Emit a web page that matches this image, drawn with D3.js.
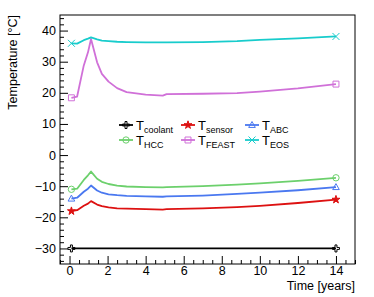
<!DOCTYPE html>
<html>
<head>
<meta charset="utf-8">
<script src="https://cdn.jsdelivr.net/npm/d3@7"></script>
<style>
  body { margin: 0; background: #fff; }
  svg { display: block; font-family: "Liberation Sans", Arial, sans-serif; }
</style>
</head>
<body>
<div id="chart"></div>
<script>
// time points (years)
const times = [0.1, 0.4, 0.75, 0.97, 1.13, 1.45, 1.7, 2.05, 2.5, 3, 4, 4.9, 5.1, 7, 8.8, 10, 12, 14];

const coolant = times.map(() => -30);
const sensor = [-18.0, -17.7, -16.3, -15.6, -14.8, -15.9, -16.4, -16.8, -17.1, -17.2, -17.4, -17.5, -17.4, -17.1, -16.7, -16.3, -15.4, -14.3];
const abc    = [-14.0, -13.7, -11.8, -10.8, -9.8, -11.4, -12.1, -12.6, -12.9, -13.1, -13.3, -13.4, -13.3, -13.0, -12.5, -12.1, -11.3, -10.3];
const hcc    = [-11.0, -10.8, -8.0, -6.5, -5.3, -7.6, -8.6, -9.3, -9.8, -10.1, -10.3, -10.4, -10.3, -10.0, -9.5, -9.1, -8.3, -7.3];
const feast  = [18.4, 18.8, 28.8, 33.0, 37.3, 29.8, 26.1, 23.6, 21.5, 20.2, 19.4, 19.1, 19.6, 19.7, 19.9, 20.4, 21.4, 22.8];
const eos    = [35.9, 35.8, 36.9, 37.4, 37.8, 37.2, 36.8, 36.6, 36.4, 36.3, 36.2, 36.2, 36.2, 36.3, 36.6, 37.0, 37.5, 38.1];

const seriesNames = ["coolant", "sensor", "ABC", "HCC", "FEAST", "EOS"];
const seriesValues = [coolant, sensor, abc, hcc, feast, eos];

const xTicks = [0, 2, 4, 6, 8, 10, 12, 14];
const yTicks = [-30, -20, -10, 0, 10, 20, 30, 40];

const colors = ["#000000", "#dd1111", "#4a78f0", "#6cd06c", "#d070d8", "#18cccc"];
const markers = ["opencross", "star", "triangle", "circle", "square", "x"];

const width = 374, height = 297;
const margin = {top: 15, right: 19, bottom: 33, left: 60};

const svg = d3.select("#chart").append("svg")
    .attr("width", width)
    .attr("height", height);

const x = d3.scaleLinear().domain([-0.5, 15]).range([margin.left, width - margin.right]);
const y = d3.scaleLinear().domain([-35, 45]).range([height - margin.bottom, margin.top]);

// frame
svg.append("rect")
    .attr("x", margin.left).attr("y", margin.top)
    .attr("width", width - margin.left - margin.right)
    .attr("height", height - margin.top - margin.bottom)
    .attr("fill", "none").attr("stroke", "#000").attr("stroke-width", 1);

// axes (ticks inside the frame, ROOT style)
const xMinor = d3.range(-0.5, 15.01, 0.5).filter(v => !xTicks.includes(v));
const yMinor = d3.range(-34, 45, 2).filter(v => !yTicks.includes(v));

const xAxis = svg.append("g").attr("transform", `translate(0,${height - margin.bottom})`);
xAxis.call(d3.axisBottom(x).tickValues(xTicks).tickSizeInner(-8).tickSizeOuter(0).tickPadding(2));
xAxis.append("g").call(d3.axisBottom(x).tickValues(xMinor).tickSizeInner(-4).tickSizeOuter(0).tickFormat(""));

const yAxis = svg.append("g").attr("transform", `translate(${margin.left},0)`);
yAxis.call(d3.axisLeft(y).tickValues(yTicks).tickSizeInner(-8).tickSizeOuter(0).tickPadding(4)
    .tickFormat(d => d < 0 ? "\u2212" + Math.abs(d) : d));
yAxis.append("g").call(d3.axisLeft(y).tickValues(yMinor).tickSizeInner(-4).tickSizeOuter(0).tickFormat(""));

svg.selectAll(".domain").remove();
svg.selectAll(".tick line").attr("stroke", "#000");
svg.selectAll(".tick text").attr("font-size", 12.5).attr("fill", "#000")
    .attr("font-family", "'Liberation Sans', Arial, sans-serif");
xAxis.selectAll(".tick text").attr("dy", "0.7em");

// axis titles
svg.append("text")
    .attr("x", width - margin.right).attr("y", 290)
    .attr("text-anchor", "end").attr("font-size", 12.5)
    .text("Time [years]");

svg.append("text")
    .attr("transform", `translate(17,${margin.top}) rotate(-90)`)
    .attr("text-anchor", "end").attr("font-size", 12.5)
    .text("Temperature [°C]");

// marker drawing
function markerPath(type, s) {
    switch (type) {
        case "opencross": {
            const a = s * 0.28, b = s;
            return `M${-a},${-b}H${a}V${-a}H${b}V${a}H${a}V${b}H${-a}V${a}H${-b}V${-a}H${-a}Z`;
        }
        case "star":
            return d3.symbol(d3.symbolStar, s * s * 1.6)();
        case "triangle":
            return `M0,${-s}L${s * 0.95},${s * 0.7}L${-s * 0.95},${s * 0.7}Z`;
        case "circle":
            return d3.symbol(d3.symbolCircle, s * s * 2.6)();
        case "square":
            return `M${-s * 0.85},${-s * 0.85}H${s * 0.85}V${s * 0.85}H${-s * 0.85}Z`;
        case "x":
            return `M${-s},${-s}L${s},${s}M${-s},${s}L${s},${-s}`;
    }
}

function drawMarker(g, type, color, cx, cy, s) {
    const filled = type === "star";
    g.append("path")
        .attr("transform", `translate(${cx},${cy})`)
        .attr("d", markerPath(type, s))
        .attr("fill", filled ? color : "none")
        .attr("stroke", color)
        .attr("stroke-width", 1);
}

const line = d3.line().x(d => x(d[0])).y(d => y(d[1]));

const plot = svg.append("g");
seriesValues.forEach((vals, i) => {
    const pts = times.map((t, j) => [t, vals[j]]);
    plot.append("path")
        .attr("d", line(pts))
        .attr("fill", "none")
        .attr("stroke", colors[i])
        .attr("stroke-width", 1.8)
        .attr("stroke-linejoin", "round");
    [pts[0], pts[pts.length - 1]].forEach(p => {
        drawMarker(plot, markers[i], colors[i], x(p[0]), y(p[1]), 3.5);
    });
});

// legend
const legCols = [126, 188, 252];
const legRows = [125, 140];
const legend = svg.append("g");
seriesNames.forEach((name, i) => {
    const cx = legCols[i % 3], cy = legRows[Math.floor(i / 3)];
    legend.append("line")
        .attr("x1", cx - 7).attr("x2", cx + 7)
        .attr("y1", cy).attr("y2", cy)
        .attr("stroke", colors[i]).attr("stroke-width", 1.8);
    drawMarker(legend, markers[i], colors[i], cx, cy, 3.5);
    const t = legend.append("text")
        .attr("x", cx + 10).attr("y", cy + 4.5)
        .attr("font-size", 13);
    t.append("tspan").text("T");
    t.append("tspan").attr("dy", 3.5).attr("font-size", 9).text(name);
});
</script>
</body>
</html>
